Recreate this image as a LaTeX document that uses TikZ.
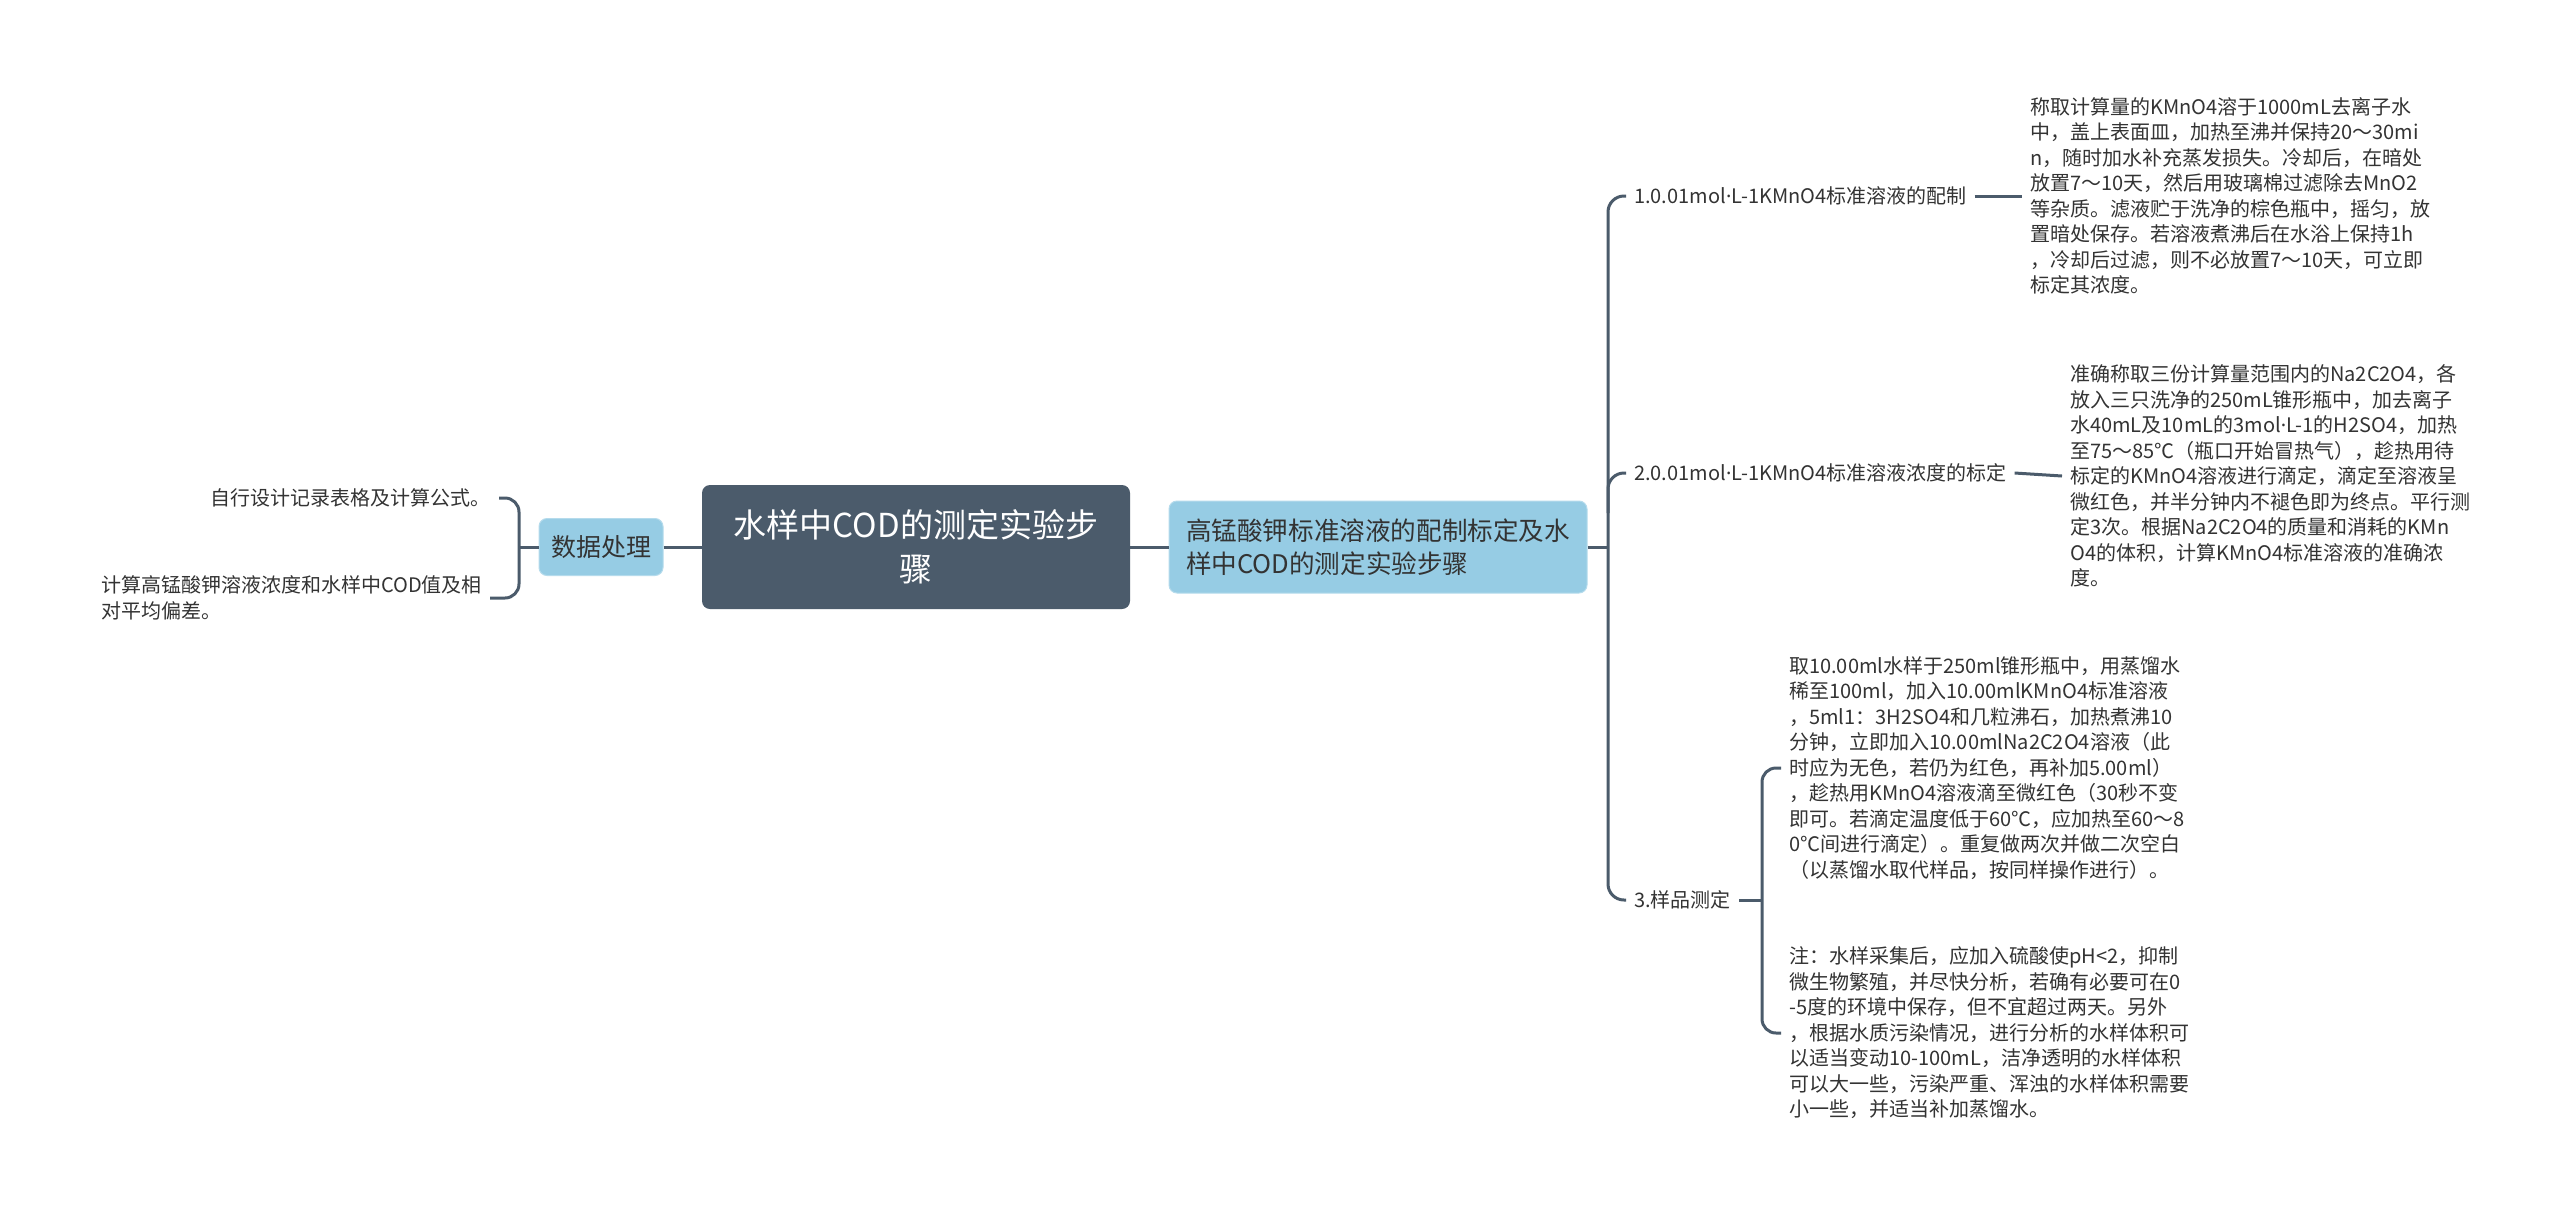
\documentclass[tikz,border=0pt]{standalone}
\usepackage{fontspec}
\setmainfont{Noto Sans CJK SC}
\newfontfamily\latfont{Noto Sans}
\newcommand{\mdot}{{\latfont ·}}
\usetikzlibrary{calc}
\definecolor{slate}{HTML}{4B5B6B}
\definecolor{lblue}{HTML}{96CCE4}
\definecolor{txt}{HTML}{333333}
\begin{document}
\begin{tikzpicture}[x=1pt,y=-1pt,
  conn/.style={draw=slate, line width=3pt},
  rootbox/.style={fill=slate, rounded corners=8pt, minimum width=428pt, minimum height=124pt, text=white, align=center, font=\fontsize{33}{44}\selectfont, inner sep=0pt},
  bluebox/.style={fill=lblue, draw=lblue!70!white, line width=1pt, rounded corners=8pt, text=txt, inner sep=0pt},
  lbl/.style={text=txt, font=\fontsize{20}{25.5}\selectfont, inner xsep=8pt, inner ysep=2pt},
  blk/.style={text=txt, font=\fontsize{20}{25.5}\selectfont, align=left, inner xsep=8pt, inner ysep=2pt}]
\fill[white] (0,0) rectangle (2560,1216);
\useasboundingbox (0,0) rectangle (2560,1216);

% central nodes
\node[rootbox] (root) at (916,547) {水样中COD的测定实验步\\骤};
\node[bluebox, minimum width=124pt, minimum height=57pt, font=\fontsize{25}{33}\selectfont] (dp) at (601,547) {数据处理};
\node[bluebox, minimum width=418pt, minimum height=92pt, align=left, font=\fontsize{25.6}{33}\selectfont] (bl) at (1378,547) {高锰酸钾标准溶液的配制标定及水\\样中COD的测定实验步骤};

% left leaves
\node[blk, anchor=east] (t1) at (499,498) {自行设计记录表格及计算公式。};
\node[blk, anchor=east] (t2) at (490,598) {计算高锰酸钾溶液浓度和水样中COD值及相\\对平均偏差。};

% right labels
\node[lbl, anchor=west] (l1) at (1626,196) {1.0.01mol\mdot L-1KMnO4标准溶液的配制};
\node[lbl, anchor=west] (l2) at (1626,473) {2.0.01mol\mdot L-1KMnO4标准溶液浓度的标定};
\node[lbl, anchor=west] (l3) at (1626,900) {3.样品测定};

% right text blocks
\node[blk, anchor=west] (b1) at (2022,196) {称取计算量的KMnO4溶于1000mL去离子水\\中，盖上表面皿，加热至沸并保持20～30mi\\n，随时加水补充蒸发损失。冷却后，在暗处\\放置7～10天，然后用玻璃棉过滤除去MnO2\\等杂质。滤液贮于洗净的棕色瓶中，摇匀，放\\置暗处保存。若溶液煮沸后在水浴上保持1h\\，冷却后过滤，则不必放置7～10天，可立即\\标定其浓度。};
\node[blk, anchor=west] (b2) at (2062,476) {准确称取三份计算量范围内的Na2C2O4，各\\放入三只洗净的250mL锥形瓶中，加去离子\\水40mL及10mL的3mol\mdot L-1的H2SO4，加热\\至75～85℃（瓶口开始冒热气），趁热用待\\标定的KMnO4溶液进行滴定，滴定至溶液呈\\微红色，并半分钟内不褪色即为终点。平行测\\定3次。根据Na2C2O4的质量和消耗的KMn\\O4的体积，计算KMnO4标准溶液的准确浓\\度。};
\node[blk, anchor=west] (b3) at (1781,768) {取10.00ml水样于250ml锥形瓶中，用蒸馏水\\稀至100ml，加入10.00mlKMnO4标准溶液\\，5ml1：3H2SO4和几粒沸石，加热煮沸10\\分钟，立即加入10.00mlNa2C2O4溶液（此\\时应为无色，若仍为红色，再补加5.00ml）\\，趁热用KMnO4溶液滴至微红色（30秒不变\\即可。若滴定温度低于60℃，应加热至60～8\\0℃间进行滴定）。重复做两次并做二次空白\\（以蒸馏水取代样品，按同样操作进行）。};
\node[blk, anchor=west] (b4) at (1781,1033) {注：水样采集后，应加入硫酸使pH<2，抑制\\微生物繁殖，并尽快分析，若确有必要可在0\\-5度的环境中保存，但不宜超过两天。另外\\，根据水质污染情况，进行分析的水样体积可\\以适当变动10-100mL，洁净透明的水样体积\\可以大一些，污染严重、浑浊的水样体积需要\\小一些，并适当补加蒸馏水。};

% connectors
\draw[conn] (dp.east) -- (root.west);
\draw[conn] (root.east) -- (bl.west);

\coordinate (lbx) at (519,547);
\draw[conn] (dp.west) -- (lbx);
\draw[conn, rounded corners=14pt] (t1.east) -| (lbx) |- (t2.east);

\coordinate (bx) at (1608,547);
\draw[conn] (bl.east) -- (bx);
\draw[conn, rounded corners=16pt] (l1.west) -| (bx) |- (l3.west);
\draw[conn, rounded corners=16pt] ($(bx|-l2.west)+(0,40)$) -- (bx|-l2.west) -- (l2.west);

\draw[conn] (l1.east) -- (b1.west);
\draw[conn] (l2.east) -- (b2.west);

\coordinate (sbx) at (1762,900);
\draw[conn] (l3.east) -- (sbx);
\draw[conn, rounded corners=14pt] (b3.west) -| (sbx) |- (b4.west);
\end{tikzpicture}
\end{document}
